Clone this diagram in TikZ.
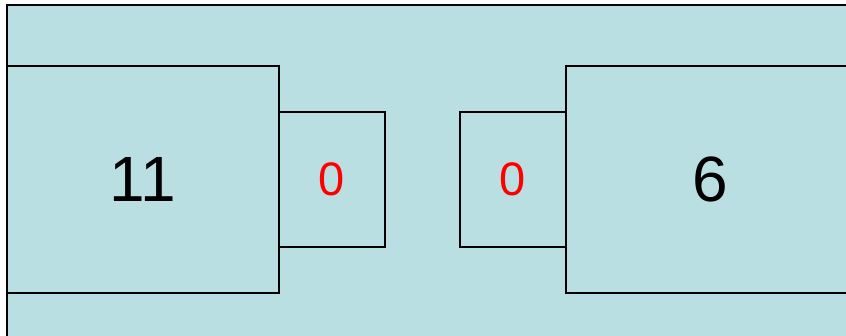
\documentclass[tikz,border=0pt]{standalone}
\usepackage{fontspec}
\setmainfont{Liberation Sans}
\usepackage{tikz}
\usetikzlibrary{positioning}
\definecolor{slotbg}{HTML}{B9DFE3}

\begin{document}
\begin{tikzpicture}[x=1pt, y=-1pt,
      every node/.style={rectangle, draw, line width=1.3pt, fill=slotbg, inner sep=0pt},
      bigbox/.style={minimum height=227pt, font=\fontsize{64}{64}\selectfont},
      smallbox/.style={minimum width=106pt, minimum height=135pt, text=red, font=\fontsize{47}{47}\selectfont}
    ]
      \useasboundingbox (0,0) rectangle (846,335);
      \clip (0,0) rectangle (846,335);
      \draw[line width=1.8pt, fill=slotbg] (7,5) rectangle (880,380);

      \node[bigbox, minimum width=272pt] (lbig) at (143,179.5) {11};
      \node[smallbox, right=-1.3pt of lbig] (lzero) {0};

      \node[bigbox, minimum width=288pt] (rbig) at (710,179.5) {6};
      \node[smallbox, left=-1.3pt of rbig] (rzero) {0};
    \end{tikzpicture}
\end{document}
